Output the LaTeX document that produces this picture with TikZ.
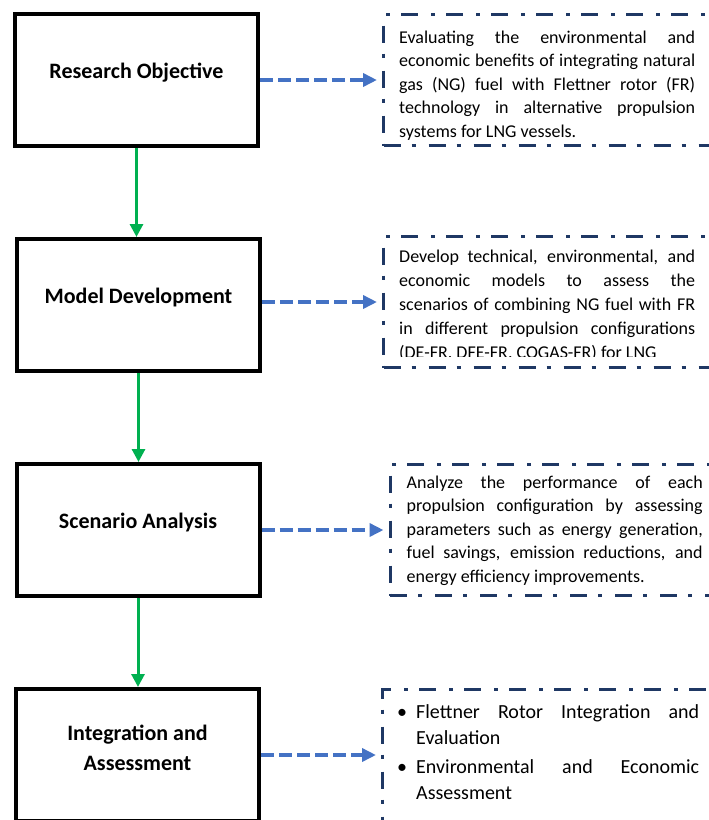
\documentclass[tikz,border=0pt]{standalone}
\usepackage{fontspec}
\setmainfont{Carlito}
\usetikzlibrary{shapes, arrows, arrows.meta, positioning}

\definecolor{flowgreen}{HTML}{00B050}
\definecolor{linkblue}{HTML}{4472C4}
\definecolor{notenavy}{HTML}{1F3864}

\tolerance=10000
\hbadness=10000

\begin{document}
\begin{tikzpicture}
  [x = 1pt, y = -1pt,
  % block
  block/.style = {rectangle,
    draw, line width = 4pt,
    minimum width = 243pt,
    minimum height = 132pt},
  % block label
  blocklabel/.style = {font = \fontsize{22}{30}\selectfont\bfseries,
    align = center, yshift = 7pt},
  % note box
  notebox/.style = {rectangle,
    draw = notenavy, line width = 3pt,
    dash pattern = on 17pt off 11pt on 4pt off 13pt,
    minimum width = 334pt,
    minimum height = 131pt},
  % note text
  notetext/.style = {anchor = base west, inner sep = 0pt,
    text width = 296pt, align = justify,
    font = \fontsize{18}{23.6}\selectfont},
  % green line
  flowline/.style = {draw, flowgreen, line width = 3pt,
    -{Triangle[width = 13pt, length = 13pt]}},
  % blue line
  linkline/.style = {draw, linkblue, line width = 4pt,
    dash pattern = on 13pt off 5pt, shorten > = 5pt,
    -{Triangle[width = 13pt, length = 14pt]}},
  % distance
  node distance = 89pt,
  ]

  \useasboundingbox (0,0) rectangle (709,820);

  % nodes
  \node [block, label = {[blocklabel]center:Research Objective}] (obj) at (136.5,80) {};
  \node [block, below = of obj, xshift = 2pt, label = {[blocklabel]center:Model Development}] (dev) {};
  \node [block, below = of dev, xshift = -0.5pt, label = {[blocklabel]center:Scenario Analysis}] (scen) {};
  \node [block, below = of scen, xshift = -0.5pt, label = {[blocklabel]center:Integration and\\Assessment}] (integ) {};

  \node [notebox, right = 122pt of obj] (objnote) {};
  \node [notebox, right = 120pt of dev, yshift = 3pt] (devnote) {};
  \node [notebox, right = 127pt of scen] (scennote) {};
  \node [notebox, right = 120pt of integ, minimum height = 150pt, yshift = -9.5pt] (integnote) {};

  % texts
  \node [notetext] (objtxt) at ([xshift = 17pt, yshift = -30pt]objnote.north west)
    {Evaluating the environmental and\linebreak
     economic benefits of integrating natural\linebreak
     gas (NG) fuel with Flettner rotor (FR)\linebreak
     technology in alternative propulsion\linebreak
     systems for LNG vessels.};

  \begin{scope}
    \clip (devnote.north west) rectangle ([yshift = 13pt]devnote.south east);
    \node [notetext, font = \fontsize{18}{24}\selectfont] (devtxt)
      at ([xshift = 17pt, yshift = -27pt]devnote.north west)
      {\parfillskip = 0pt
       Develop technical, environmental, and\linebreak
       economic models to assess the\linebreak
       scenarios of combining NG fuel with FR\linebreak
       in different propulsion configurations\linebreak
       (DE-FR. DFE-FR. COGAS-FR) for LNG};
  \end{scope}

  \node [notetext] (scentxt) at ([xshift = 18pt, yshift = -25pt]scennote.north west)
    {Analyze the performance of each\linebreak
     propulsion configuration by assessing\linebreak
     parameters such as energy generation,\linebreak
     fuel savings, emission reductions, and\linebreak
     energy efficiency improvements.};

  \node [notetext, text width = 302pt, font = \fontsize{20}{26}\selectfont]
    (integtxt) at ([xshift = 16pt, yshift = -30pt]integnote.north west)
    {\parskip = 3pt
     \hangindent = 19pt \hangafter = 1 \noindent\makebox[19pt][l]{\textbullet}%
     Flettner Rotor Integration and\linebreak Evaluation\par
     \hangindent = 19pt \hangafter = 1 \noindent\makebox[19pt][l]{\textbullet}%
     Environmental and Economic\linebreak Assessment\par};

  % path
  \path [flowline] (obj.south) -- (obj.south |- dev.north);
  \path [flowline] (dev) -- (dev |- scen.north);
  \path [flowline] (scen) -- (scen |- integ.north);

  \path [linkline] (obj.east |- objnote.west) -- (objnote.west);
  \path [linkline] (dev.east |- devnote.west) -- (devnote.west);
  \path [linkline] (scen.east |- scennote.west) -- (scennote.west);
  \path [linkline, yshift = 2pt] (integ.east) -- (integ.east -| integnote.west);

\end{tikzpicture}
\end{document}
